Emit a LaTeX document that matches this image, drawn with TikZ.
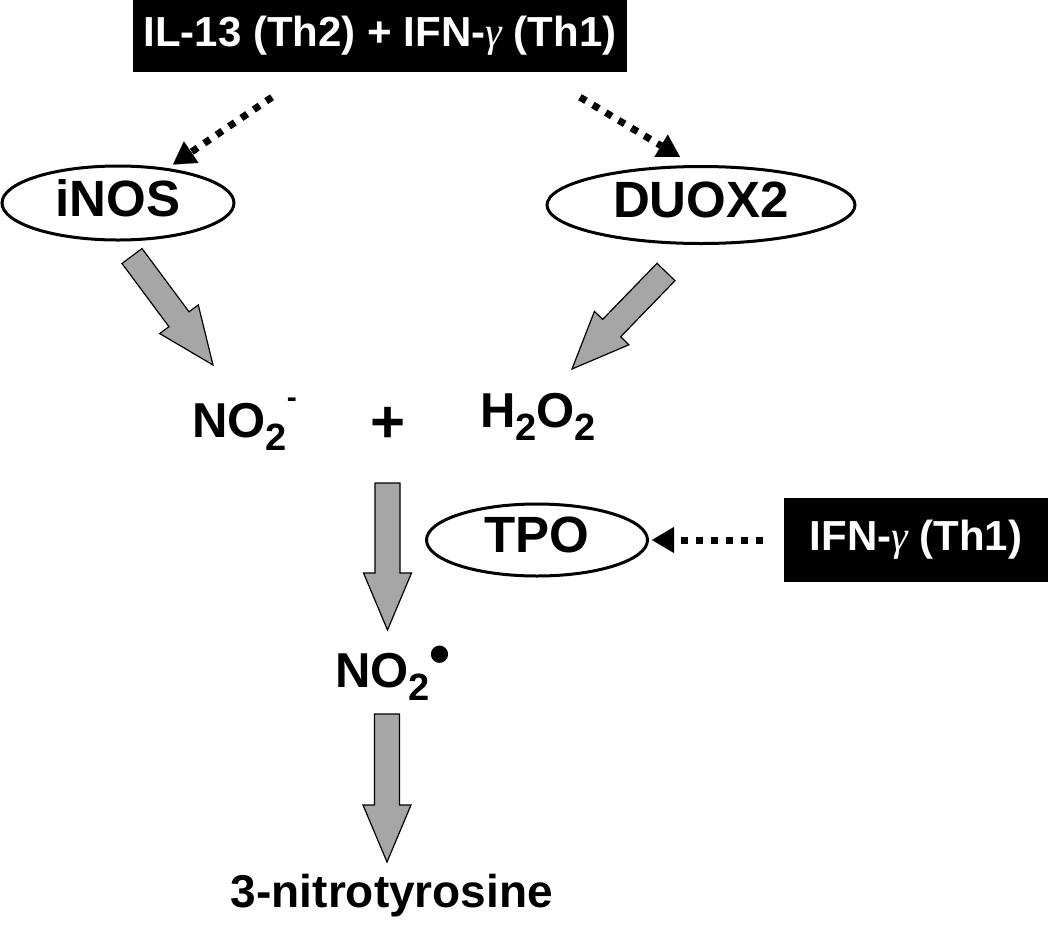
\documentclass[tikz,border=0pt]{standalone}
\usepackage{fontspec}
\setmainfont{Liberation Sans}
\newfontfamily\gfont{Liberation Serif}
\usetikzlibrary{calc, shapes.geometric, arrows.meta}
\tikzset{ enz/.style  = { ellipse
                        , draw
                        , line width   = 3pt
                        , inner sep    = 0pt
                        , text depth   = 10pt
                        , font = \bfseries\fontsize{51}{51}\selectfont
                        },
          cyt/.style  = { rectangle
                        , fill      = black
                        , text      = white
                        , inner sep = 0pt
                        , font = \bfseries\fontsize{42}{42}\selectfont
                        },
          chem/.style = { inner sep = 0pt
                        , font = \bfseries\fontsize{49}{49}\selectfont
                        },
          dots/.style = { line width   = 7pt
                        , dash pattern = on 7pt off 8pt
                        , -{Triangle[length=22pt, width=26pt, line width=0.1pt]}
                        },
          fat/.style  = { fill       = black!35
                        , draw       = black
                        , line width = 1.2pt
                        , line join  = miter
                        }
        }
\newcommand{\chsub}[1]{\raisebox{-13pt}{\fontsize{38}{38}\selectfont #1}}
\newcommand{\gam}{{\gfont\mdseries\itshape γ}}
% block arrow from #1 (tail) to #2 (tip)
\newcommand{\fatarrow}[2]{%
  \coordinate (fh) at ($(#2)!57pt!(#1)$);
  \filldraw[fat] ($(#1)!12.5pt!90:(#2)$) -- ($(fh)!12.5pt!90:(#2)$)
      -- ($(fh)!24pt!90:(#2)$) -- (#2) -- ($(fh)!24pt!-90:(#2)$)
      -- ($(fh)!12.5pt!-90:(#2)$) -- ($(#1)!12.5pt!-90:(#2)$) -- cycle;}

\begin{document}
\begin{tikzpicture}[x=1pt, y=-1pt]
      \useasboundingbox (0,0) rectangle (1050,938);

      % cytokines
      \node[cyt, minimum width=494pt, minimum height=72pt] (il13) at (380,36)
           {IL-13 (Th2) + IFN-\gam{} (Th1)};
      \node[cyt, minimum width=264pt, minimum height=84pt] (ifn) at (916,540)
           {IFN-\gam{} (Th1)};

      % enzymes
      \node[enz, minimum width=232pt, minimum height=74pt] (inos) at (118,203) {iNOS};
      \node[enz, minimum width=308pt, minimum height=77pt] (duox) at (701,205) {DUOX2};
      \node[enz, minimum width=221pt, minimum height=72pt] (tpo)  at (537,540) {TPO};

      % products
      \node[chem, anchor=base west] (no2)  at (192,437)
           {NO\chsub{2}\raisebox{30pt}{\fontsize{30}{30}\selectfont -}};
      \node[chem, font=\bfseries\fontsize{60}{60}\selectfont] (plus) at (388,425) {+};
      \node[chem, anchor=base west] (h2o2) at (480,427) {H\chsub{2}O\chsub{2}};
      \node[chem, anchor=base west] (no2r) at (335,687)
           {NO\chsub{2}\raisebox{13pt}{\fontsize{60}{60}\selectfont •}};
      \node[chem, anchor=base, font=\bfseries\fontsize{46}{46}\selectfont]
           (ntyr) at (392,907) {3-nitrotyrosine};

      % induction
      \draw[dots] ([xshift=-108pt,yshift=-25pt]il13.south) -- ([xshift=55pt]inos.north);
      \draw[dots] ([xshift=200pt,yshift=-25pt]il13.south) -- ([xshift=-21pt,yshift=8pt]duox.north);
      \draw[dots] ([xshift=-21pt]ifn.west) -- ([xshift=3pt]tpo.east);

      % reactions
      \coordinate (a1s) at (132,256);   \coordinate (a1e) at (213,365);
      \coordinate (a2s) at (666,272);   \coordinate (a2e) at (572,369);
      \coordinate (a3s) at (387.5,483); \coordinate (a3e) at (387.5,630);
      \coordinate (a4s) at (387,714);   \coordinate (a4e) at (387,862);
      \fatarrow{a1s}{a1e}
      \fatarrow{a2s}{a2e}
      \fatarrow{a3s}{a3e}
      \fatarrow{a4s}{a4e}
\end{tikzpicture}
\end{document}
